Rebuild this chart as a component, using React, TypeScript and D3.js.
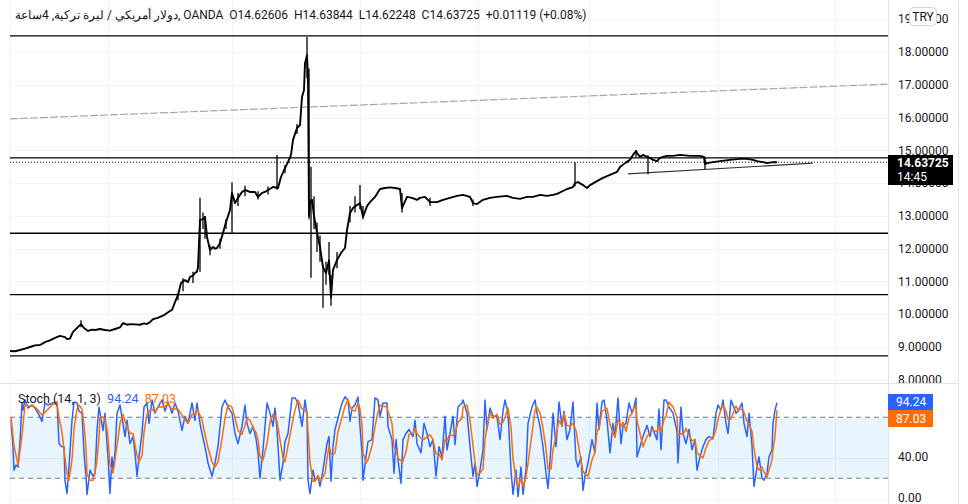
import React from "react";
import * as d3 from "d3";

// ---- data ----
const headerArabic = "دولار أمريكي / ليرة تركية, 4ساعة, ";
const headerOHLC = "OANDA  O14.62606  H14.63844  L14.62248  C14.63725  +0.01119 (+0.08%)";
const priceTicks = [8, 9, 10, 11, 12, 13, 14, 15, 16, 17, 18, 19];
const stochTicks = [0, 40];
const timeGrid = [98, 222, 350, 468, 579, 708, 825];
const levels = [18.49, 14.77, 12.47, 10.6, 8.73];
const lastPrice = 14.63725;
const lastK = 94.24;
const lastD = 87.03;
const channelLine: [number, number][] = [[0, 15.96], [878, 17.02]];
const supportLine: [number, number][] = [[618, 14.28], [803, 14.61]];

// [bar, close]
const priceSeries: [number, number][] = [
  [0, 8.88], [5, 8.87], [10, 8.91], [15, 8.95], [20, 9.0], [25, 9.05], [30, 9.06], [35, 9.15], [40, 9.2], [45, 9.28],
  [50, 9.34], [55, 9.3], [57, 9.24], [60, 9.26], [63, 9.46], [68, 9.61], [71, 9.7], [74, 9.58], [78, 9.49], [82, 9.53],
  [85, 9.52], [90, 9.55], [95, 9.52], [100, 9.5], [105, 9.55], [110, 9.6], [113, 9.73], [117, 9.68], [120, 9.7], [125, 9.69],
  [130, 9.68], [134, 9.72], [137, 9.7], [140, 9.76], [143, 9.85], [147, 9.88], [150, 9.92], [154, 9.97], [157, 10.04], [160, 10.1],
  [162, 10.13], [165, 10.37], [168, 10.59], [171, 10.95], [173, 11.0], [175, 11.04], [178, 10.98], [180, 11.14], [183, 11.18], [185, 11.26],
  [187, 11.3], [188, 11.44], [190, 12.87], [193, 12.9], [195, 12.97], [197, 12.36], [200, 11.96], [203, 12.05], [205, 12.0], [207, 12.02],
  [210, 12.17], [213, 12.48], [216, 12.81], [220, 13.18], [222, 13.7], [225, 13.39], [228, 13.55], [232, 13.73], [235, 13.79], [240, 13.73],
  [245, 13.73], [248, 13.58], [252, 13.7], [255, 13.73], [258, 13.79], [263, 13.88], [268, 13.85], [271, 14.19], [275, 14.46], [278, 14.64],
  [281, 14.86], [283, 15.32], [287, 15.68], [290, 15.77], [292, 16.63], [294, 16.84], [295, 17.66], [297, 17.9], [298, 17.24], [299, 13.0],
  [300, 13.39], [302, 13.49], [304, 13.0], [307, 12.48], [310, 12.05], [313, 11.43], [316, 11.26], [319, 11.64], [321, 10.51], [323, 11.35],
  [327, 11.65], [331, 11.87], [335, 12.02], [337, 12.57], [340, 13.09], [343, 13.24], [347, 13.33], [350, 13.39], [353, 12.97], [357, 13.3],
  [360, 13.42], [365, 13.58], [370, 13.82], [375, 13.85], [380, 13.87], [385, 13.85], [390, 13.82], [392, 13.24], [397, 13.58], [402, 13.55],
  [407, 13.49], [410, 13.55], [415, 13.58], [420, 13.42], [427, 13.42], [433, 13.49], [440, 13.55], [447, 13.61], [453, 13.64], [460, 13.58],
  [463, 13.39], [467, 13.36], [473, 13.49], [480, 13.55], [487, 13.58], [497, 13.61], [503, 13.55], [510, 13.52], [517, 13.58], [523, 13.58],
  [530, 13.64], [537, 13.61], [543, 13.64], [547, 13.67], [553, 13.76], [557, 13.82], [563, 13.88], [565, 14.0], [568, 14.03], [573, 13.94],
  [577, 13.85], [580, 13.94], [587, 14.06], [593, 14.16], [600, 14.25], [607, 14.34], [610, 14.49], [615, 14.61], [620, 14.71], [623, 14.86],
  [626, 14.98], [627, 14.92], [630, 14.8], [633, 14.86], [637, 14.8], [640, 14.77], [643, 14.71], [647, 14.67], [650, 14.77], [653, 14.8],
  [657, 14.83], [663, 14.83], [670, 14.86], [680, 14.83], [690, 14.83], [694, 14.8], [695, 14.58], [697, 14.61], [703, 14.64], [710, 14.67],
  [720, 14.71], [730, 14.74], [737, 14.74], [743, 14.71], [747, 14.67], [753, 14.64], [757, 14.61], [763, 14.64], [767, 14.637],
];

// [bar, high, low]
const wicks: [number, number, number][] = [
  [71, 9.82, 9.6], [168, 10.59, 10.43], [173, 11.1, 10.7], [183, 11.3, 10.95], [190, 13.55, 11.3], [193, 13.1, 12.6],
  [195, 13.0, 12.3], [200, 12.1, 11.8], [210, 12.3, 12.0], [216, 12.9, 12.6], [222, 14.03, 12.48], [228, 13.7, 13.3],
  [235, 13.92, 13.6], [248, 13.75, 13.5], [258, 13.9, 13.65], [267, 14.86, 13.8], [275, 14.55, 14.3], [287, 15.8, 15.5],
  [297, 18.46, 17.2], [299, 17.5, 12.9], [301, 14.5, 11.11], [304, 13.6, 12.6], [307, 12.8, 11.9], [310, 12.4, 11.6],
  [313, 11.5, 10.2], [316, 11.6, 10.9], [319, 12.2, 11.2], [321, 11.2, 10.26], [327, 11.9, 11.4], [340, 13.3, 12.8],
  [345, 13.6, 13.1], [350, 13.94, 13.2], [353, 13.3, 12.9], [392, 13.7, 13.1], [420, 13.55, 13.3], [463, 13.5, 13.3],
  [565, 14.64, 13.9], [626, 15.01, 14.8], [638, 14.85, 14.27], [695, 14.8, 14.43],
];

// [bar, %K]
const stochK: [number, number][] = [
  [1, 77], [3, 51], [4, 28], [6, 33], [8, 31], [10, 56], [12, 94], [13, 87], [15, 97], [18, 89], [22, 92], [25, 89], [28, 84], [32, 76], [35, 94],
  [38, 92], [43, 94], [47, 95], [49, 54], [52, 51], [54, 51], [55, 18], [57, 5], [59, 31], [62, 77], [64, 95], [67, 94], [69, 86], [72, 84], [74, 45],
  [76, 22], [77, 4], [80, 28], [83, 22], [85, 25], [87, 67], [89, 90], [90, 84], [93, 67], [95, 84], [97, 54], [98, 41], [100, 5], [102, 41], [103, 28],
  [105, 45], [107, 84], [110, 92], [113, 74], [115, 61], [117, 77], [120, 54], [123, 61], [125, 45], [127, 22], [129, 41], [132, 64], [134, 90], [137, 94], [139, 74],
  [142, 97], [145, 84], [148, 90], [152, 97], [155, 86], [158, 95], [162, 84], [165, 94], [168, 86], [172, 67], [175, 81], [178, 74], [182, 94], [185, 77], [187, 94],
  [190, 74], [192, 64], [195, 51], [198, 35], [202, 22], [205, 35], [208, 51], [212, 90], [215, 97], [218, 90], [222, 84], [225, 64], [228, 54], [232, 71], [235, 92],
  [237, 74], [240, 64], [243, 71], [246, 59], [248, 45], [250, 20], [253, 48], [257, 94], [260, 84], [263, 71], [265, 89], [267, 68], [270, 18], [273, 35], [275, 56],
  [278, 64], [282, 99], [285, 99], [288, 94], [292, 71], [295, 97], [297, 84], [298, 18], [300, 5], [303, 28], [305, 18], [308, 22], [310, 12], [312, 22], [315, 41],
  [317, 54], [319, 61], [321, 17], [323, 51], [325, 68], [328, 79], [332, 94], [335, 100], [338, 97], [340, 76], [342, 89], [345, 92], [348, 100], [350, 71], [352, 45],
  [353, 18], [356, 41], [358, 56], [362, 58], [365, 99], [368, 97], [370, 81], [373, 94], [377, 94], [378, 71], [382, 58], [384, 25], [386, 58], [388, 38], [391, 15],
  [393, 58], [396, 64], [399, 68], [403, 61], [405, 77], [407, 54], [411, 45], [414, 74], [417, 64], [420, 51], [423, 58], [426, 22], [429, 51], [432, 41], [435, 81],
  [437, 48], [439, 58], [443, 81], [445, 53], [448, 90], [452, 94], [453, 97], [457, 84], [460, 51], [463, 22], [465, 35], [467, 12], [470, 28], [473, 48], [475, 97],
  [477, 68], [480, 89], [483, 81], [487, 81], [490, 58], [493, 86], [495, 97], [498, 84], [501, 28], [503, 4], [506, 28], [508, 2], [511, 31], [513, 4], [516, 28],
  [518, 74], [522, 90], [525, 97], [527, 84], [530, 71], [533, 51], [536, 25], [538, 10], [541, 51], [543, 84], [546, 51], [549, 95], [552, 71], [554, 86], [557, 58],
  [560, 68], [563, 95], [566, 38], [568, 31], [571, 41], [573, 8], [575, 22], [578, 35], [582, 58], [585, 45], [587, 94], [589, 68], [592, 95], [594, 97], [597, 77],
  [600, 45], [603, 74], [605, 61], [608, 99], [611, 54], [613, 71], [616, 74], [619, 94], [622, 84], [624, 90], [626, 99], [627, 41], [630, 51], [633, 61], [637, 72],
  [640, 61], [642, 71], [643, 68], [647, 58], [649, 88], [651, 48], [654, 97], [656, 97], [659, 90], [663, 84], [667, 66], [668, 35], [671, 90], [673, 64], [676, 54],
  [679, 68], [682, 48], [685, 58], [687, 28], [690, 41], [693, 51], [696, 58], [699, 61], [703, 59], [706, 84], [708, 92], [711, 87], [713, 97], [716, 74], [718, 64],
  [721, 97], [723, 92], [726, 84], [728, 86], [732, 94], [734, 74], [737, 61], [739, 84], [742, 52], [744, 12], [747, 31], [749, 41], [752, 20], [754, 18], [757, 25],
  [759, 41], [762, 48], [763, 74], [765, 87], [767, 94.24],
];

// [bar, %D]
const stochD: [number, number][] = [
  [1, 80], [4, 52], [8, 33], [12, 62], [15, 92], [18, 91], [22, 91], [25, 90], [28, 87], [32, 82], [35, 85], [38, 88], [43, 93], [47, 94], [49, 80],
  [52, 65], [55, 40], [57, 25], [59, 18], [62, 38], [64, 68], [67, 88], [69, 92], [72, 88], [74, 72], [76, 50], [77, 24], [80, 18], [83, 18], [85, 25],
  [87, 38], [89, 60], [90, 80], [93, 80], [95, 78], [97, 68], [98, 60], [100, 33], [102, 29], [103, 25], [105, 38], [107, 52], [110, 74], [113, 83], [115, 76],
  [117, 71], [120, 64], [123, 64], [125, 53], [127, 43], [129, 36], [132, 42], [134, 65], [137, 83], [139, 86], [142, 88], [145, 85], [148, 90], [152, 90], [155, 91],
  [158, 93], [162, 88], [165, 88], [168, 88], [172, 82], [175, 78], [178, 74], [182, 83], [185, 82], [187, 88], [190, 82], [192, 77], [195, 63], [198, 50], [202, 36],
  [205, 31], [208, 36], [212, 59], [215, 79], [218, 92], [222, 90], [225, 79], [228, 67], [232, 63], [235, 72], [237, 79], [240, 77], [243, 70], [246, 65], [248, 58],
  [250, 41], [253, 38], [257, 54], [260, 75], [263, 83], [265, 81], [267, 76], [270, 58], [273, 40], [275, 36], [278, 52], [282, 73], [285, 87], [288, 97], [292, 88],
  [295, 87], [297, 84], [298, 66], [300, 36], [303, 17], [305, 17], [308, 23], [310, 17], [312, 19], [315, 25], [317, 39], [319, 52], [321, 44], [323, 43], [325, 45],
  [328, 66], [332, 80], [335, 91], [338, 97], [340, 91], [342, 87], [345, 86], [348, 94], [350, 88], [352, 72], [353, 45], [356, 35], [358, 38], [362, 52], [365, 71],
  [368, 85], [370, 92], [373, 91], [377, 90], [378, 86], [382, 74], [384, 51], [386, 47], [388, 40], [391, 37], [393, 37], [396, 46], [399, 63], [403, 64], [405, 69],
  [407, 64], [411, 59], [414, 58], [417, 61], [420, 63], [423, 58], [426, 44], [429, 44], [432, 38], [435, 58], [437, 57], [439, 62], [443, 62], [445, 64], [448, 75],
  [452, 79], [453, 90], [457, 92], [460, 77], [463, 52], [465, 36], [467, 23], [470, 25], [473, 29], [475, 58], [477, 71], [480, 85], [483, 79], [487, 83], [490, 73],
  [493, 75], [495, 80], [498, 89], [501, 70], [503, 39], [506, 20], [508, 11], [511, 20], [513, 12], [516, 21], [518, 35], [522, 64], [525, 87], [527, 90], [530, 84],
  [533, 69], [536, 49], [538, 29], [541, 29], [543, 48], [546, 62], [549, 77], [552, 72], [554, 84], [557, 72], [560, 71], [563, 74], [566, 67], [568, 55], [571, 37],
  [573, 27], [575, 24], [578, 22], [582, 38], [585, 46], [587, 66], [589, 69], [592, 86], [594, 87], [597, 89], [600, 73], [603, 65], [605, 60], [608, 78], [611, 71],
  [613, 75], [616, 66], [619, 80], [622, 84], [624, 89], [626, 91], [627, 77], [630, 64], [633, 51], [637, 61], [640, 65], [642, 68], [643, 67], [647, 66], [649, 71],
  [651, 65], [654, 78], [656, 81], [659, 95], [663, 90], [667, 80], [668, 62], [671, 64], [673, 63], [676, 69], [679, 62], [682, 57], [685, 58], [687, 45], [690, 42],
  [693, 40], [696, 50], [699, 57], [703, 59], [706, 68], [708, 78], [711, 88], [713, 92], [716, 86], [718, 78], [721, 78], [723, 84], [726, 91], [728, 87], [732, 88],
  [734, 85], [737, 76], [739, 73], [742, 66], [744, 49], [747, 32], [749, 28], [752, 31], [754, 26], [757, 21], [759, 28], [762, 38], [763, 48], [765, 62], [767, 87.03],
];

const FONT = "Roboto, 'Liberation Sans', sans-serif";
const TEXT = "#131722";

export default function App() {
  const W = 968;
  const H = 504;
  const x = d3.scaleLinear().domain([0, 878]).range([10, 888]);
  const y = d3.scaleLinear().domain([8, 18]).range([379.8, 52]);
  const ys = d3.scaleLinear().domain([0, 100]).range([498.6, 396.9]);

  const priceLine = d3.line<[number, number]>().x((d) => x(d[0])).y((d) => y(d[1]));
  const kLine = d3.line<[number, number]>().x((d) => x(d[0])).y((d) => ys(d[1]));

  const fmtP = d3.format(".5f");
  const fmtS = d3.format(".2f");

  return (
    <svg
      width={W}
      height={H}
      style={{ position: "fixed", left: 0, top: 0, background: "#fff", fontFamily: FONT }}
    >
      <defs>
        <clipPath id="mainClip">
          <rect x={0} y={0} width={888} height={383} />
        </clipPath>
        <clipPath id="mainAxisClip">
          <rect x={888} y={0} width={80} height={383} />
        </clipPath>
        <clipPath id="stochClip">
          <rect x={0} y={384} width={888} height={120} />
        </clipPath>
      </defs>
      <rect x={0} y={0} width={W} height={H} fill="#ffffff" />

      {/* grids */}
      {priceTicks.map((p) => (
        <line key={"g" + p} x1={10} x2={888} y1={Math.round(y(p)) + 0.5} y2={Math.round(y(p)) + 0.5} stroke="#f0f3fa" />
      ))}
      {stochTicks.map((s) => (
        <line key={"gs" + s} x1={10} x2={888} y1={Math.round(ys(s)) + 0.5} y2={Math.round(ys(s)) + 0.5} stroke="#f0f3fa" />
      ))}
      {timeGrid.map((t) => (
        <line key={"vt" + t} x1={Math.round(x(t)) + 0.5} x2={Math.round(x(t)) + 0.5} y1={0} y2={504} stroke="#f0f3fa" />
      ))}
      <line x1={10.5} x2={10.5} y1={0} y2={504} stroke="#f0f3fa" />

      {/* main pane */}
      <g clipPath="url(#mainClip)">
        <path
          d={priceLine(channelLine) || ""}
          fill="none"
          stroke="#a3a6af"
          strokeWidth={1.2}
          strokeDasharray="8,2"
        />
        {levels.map((l) => (
          <line key={"lv" + l} x1={10} x2={888} y1={y(l)} y2={y(l)} stroke="#000" strokeWidth={1.3} />
        ))}
        <line
          x1={10}
          x2={888}
          y1={y(lastPrice)}
          y2={y(lastPrice)}
          stroke="#000"
          strokeWidth={1}
          strokeDasharray="1,2"
        />
        <path d={priceLine(supportLine) || ""} fill="none" stroke="#333" strokeWidth={1.2} />
        {wicks.map((w, i) => (
          <line key={"w" + i} x1={x(w[0])} x2={x(w[0])} y1={y(w[1])} y2={y(w[2])} stroke="#000" strokeWidth={1.3} />
        ))}
        <path d={priceLine(priceSeries) || ""} fill="none" stroke="#000" strokeWidth={1.9} strokeLinejoin="round" />
      </g>

      {/* stoch pane */}
      <g clipPath="url(#stochClip)">
        <rect x={10} y={ys(80)} width={878} height={ys(20) - ys(80)} fill="rgba(33,150,243,0.1)" />
        {[80, 20].map((v) => (
          <line key={"sl" + v} x1={10} x2={888} y1={ys(v)} y2={ys(v)} stroke="#787b86" strokeDasharray="5,4" />
        ))}
        <path d={kLine(stochK) || ""} fill="none" stroke="#2962ff" strokeWidth={1.5} strokeLinejoin="round" />
        <path d={kLine(stochD) || ""} fill="none" stroke="#ff6d00" strokeWidth={1.5} strokeLinejoin="round" />
      </g>

      {/* pane borders */}
      <line x1={0} x2={958} y1={383.5} y2={383.5} stroke="#e0e3eb" />
      <line x1={888.5} x2={888.5} y1={0} y2={504} stroke="#e0e3eb" />
      <line x1={958.5} x2={958.5} y1={0} y2={504} stroke="#e0e3eb" />

      {/* price axis */}
      <g clipPath="url(#mainAxisClip)">
        {priceTicks.map((p) => (
          <text key={"pt" + p} x={898} y={y(p)} dy="0.35em" fontSize={12} fill={TEXT}>
            {fmtP(p)}
          </text>
        ))}
      </g>
      {stochTicks.map((s) => (
        <text key={"st" + s} x={898} y={ys(s) - 1} dy="0.35em" fontSize={12} fill={TEXT}>
          {fmtS(s)}
        </text>
      ))}

      {/* TRY badge */}
      <rect x={909.5} y={7.5} width={27} height={18} rx={4} fill="#fff" stroke="#d1d4dc" />
      <text x={923} y={16.5} dy="0.35em" textAnchor="middle" fontSize={12} fill={TEXT}>
        TRY
      </text>

      {/* last price label */}
      <rect x={888} y={155} width={65} height={30} fill="#000" />
      <text x={897} y={163} dy="0.35em" fontSize={12} fontWeight="bold" fill="#fff">
        {fmtP(lastPrice)}
      </text>
      <text x={897} y={177} dy="0.35em" fontSize={12} fill="#fff">
        14:45
      </text>

      {/* stoch value labels */}
      <rect x={888} y={394} width={45} height={16} fill="#2962ff" />
      <text x={896} y={402} dy="0.35em" fontSize={12} fill="#fff">
        {fmtS(lastK)}
      </text>
      <rect x={888} y={410} width={45} height={17} fill="#ff6d00" />
      <text x={896} y={418.5} dy="0.35em" fontSize={12} fill="#fff">
        {fmtS(lastD)}
      </text>

      {/* headers */}
      <text x={15} y={15} dy="0.35em" fontSize={12} fill={TEXT} style={{ whiteSpace: "pre" }}>
        {headerArabic + headerOHLC}
      </text>
      <text x={18} y={399} dy="0.35em" fontSize={12.5} fill={TEXT} style={{ whiteSpace: "pre" }}>
        <tspan>Stoch (14, 1, 3)  </tspan>
        <tspan fill="#2962ff">{fmtS(lastK)}</tspan>
        <tspan>  </tspan>
        <tspan fill="#ff6d00">{fmtS(lastD)}</tspan>
      </text>
    </svg>
  );
}
